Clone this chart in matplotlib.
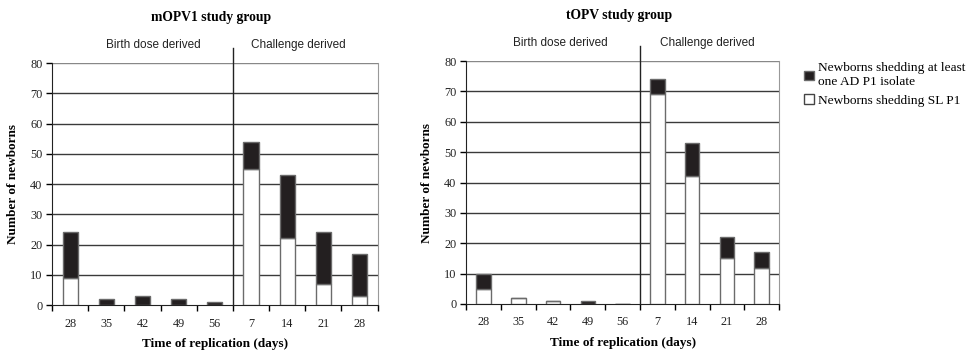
import matplotlib.pyplot as plt
from matplotlib.patches import Patch
import numpy as np

days = ["28", "35", "42", "49", "56", "7", "14", "21", "28"]

# newborns shedding SL P1 (white part) and total newborns shedding (bar top)
mopv1_sl = [9, 0, 0, 0, 0, 45, 22, 7, 3]
mopv1_total = [24, 2, 3, 2, 1, 54, 43, 24, 17]
topv_sl = [5, 2, 1, 0, 0, 69, 42, 15, 12]
topv_total = [10, 2, 1, 1, 0, 74, 53, 22, 17]

serif = "Liberation Serif"
sans = "Liberation Sans"
dark = "#231f20"
edge = "#6b6b6b"

fig = plt.figure(figsize=(9.69, 3.51), dpi=100)
ax1 = fig.add_axes([0.0537, 0.131, 0.336, 0.6895])
ax2 = fig.add_axes([0.481, 0.134, 0.323, 0.692])


def draw_panel(ax, sl, total, title, phase_x):
    x = np.arange(len(days))
    sl = np.array(sl)
    ad = np.array(total) - sl
    ax.bar(x, sl, width=0.42, color="white", edgecolor=edge, linewidth=1, zorder=3)
    ax.bar(x, ad, bottom=sl, width=0.42, color=dark, edgecolor=edge, linewidth=1, zorder=3)
    ax.set_xlim(-0.5, len(days) - 0.5)
    ax.set_ylim(0, 80)
    ax.set_yticks(range(0, 81, 10))
    for y in range(10, 81, 10):
        ax.axhline(y, color="#3a3a3a" if y < 80 else "#888888", lw=1, zorder=1)
    ax.set_xticks(x)
    ax.set_xticklabels(days)
    ax.set_xticks(np.arange(-0.5, len(days)), minor=True)
    ax.tick_params(axis="x", which="major", length=0, pad=9)
    ax.tick_params(axis="x", which="minor", length=4, direction="out", width=1)
    ax.tick_params(axis="y", length=4, direction="out", width=1, pad=3)
    for lab in ax.get_xticklabels() + ax.get_yticklabels():
        lab.set_fontfamily(serif)
        lab.set_fontsize(8.8)
        lab.set_color("#222222")
    ax.spines["top"].set_visible(False)
    ax.spines["right"].set_color("#999999")
    ax.spines["left"].set_color("#222222")
    ax.spines["bottom"].set_color("#222222")
    # divider between birth dose and challenge phases
    ax.plot([4.5, 4.5], [0, 85], color="#222222", lw=1, clip_on=False, zorder=4)
    ax.text(phase_x[0], 86, "Birth dose derived", ha="center", va="center",
            fontfamily=sans, fontsize=8.5, color="#222222")
    ax.text(phase_x[1], 86, "Challenge derived", ha="center", va="center",
            fontfamily=sans, fontsize=8.5, color="#222222")
    ax.text(3.9, 95, title, ha="center", va="center", fontfamily=serif,
            fontsize=9.8, fontweight="bold")
    ax.set_ylabel("Number of newborns", fontfamily=serif, fontsize=9.5,
                  fontweight="bold", labelpad=8)
    ax.set_xlabel("Time of replication (days)", fontfamily=serif, fontsize=9.5,
                  fontweight="bold", labelpad=6)


draw_panel(ax1, mopv1_sl, mopv1_total, "mOPV1 study group", (2.3, 6.3))
draw_panel(ax2, topv_sl, topv_total, "tOPV study group", (2.2, 6.45))

handles = [Patch(facecolor=dark, edgecolor=edge),
           Patch(facecolor="white", edgecolor="#444444")]
fig.legend(handles, ["Newborns shedding at least\none AD P1 isolate",
                     "Newborns shedding SL P1"],
           loc="upper left", bbox_to_anchor=(0.830, 0.822), frameon=False,
           prop={"family": serif, "size": 9.6}, handlelength=0.7,
           handleheight=0.7, handletextpad=0.3, labelspacing=0.45,
           borderaxespad=0, borderpad=0)

fig.savefig("out.png", dpi=100)
